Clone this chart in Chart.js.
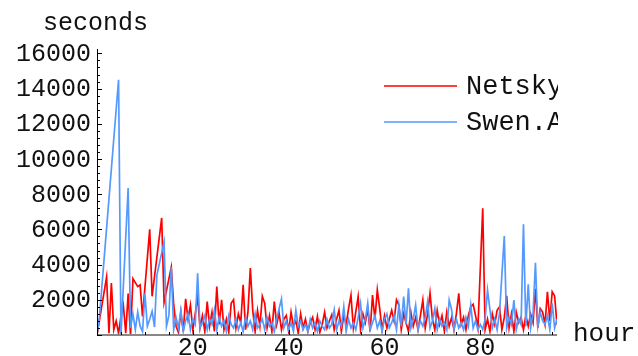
<!DOCTYPE html>
<html>
<head>
<meta charset="utf-8">
<script src="https://cdn.jsdelivr.net/npm/chart.js@4"></script>
<style>
  html, body { margin: 0; padding: 0; background: #fff; }
  #wrap { width: 638px; height: 356px; }
</style>
</head>
<body>
<div id="wrap"><canvas id="myChart" width="638" height="356"></canvas></div>
<script>
// samples every half hour; null = no sample (line spans over it)
var hourStep = 0.5;

var netskySeconds = [
  0, null, null, null, 3300, 100, 2950, 300, 800, 100,
  1050, 1700, 100, 2350, 0, 3200, null, 2750, 2850, 1050,
  null, null, 6000, 2200, null, null, null, 6650, 1850, null,
  null, 3850, 1750, 500, 150, 1300, 200, 2050, 900, 1700,
  300, 1200, 2200, 400, 1100, 200, 1900, 500, 1300, 200,
  2750, 600, 2000, 300, 900, 150, 1800, 2000, 400, 1200,
  700, 2850, 300, 1300, 3800, 1400, 200, 1400, 500, 2200,
  1800, 400, 1100, 200, 1900, 600, 1250, 300, 900, 1100,
  200, 1300, 500, 800, 100, 1200, 400, 900, 200, 700,
  1000, 300, 1050, 150, 600, 1300, 400, 800, 1150, 300,
  900, 1400, 200, 1100, 600, 1500, 2270, 400, 1300, 2180,
  300, 1200, 700, 1500, 200, 2270, 900, 2560, 1500, 300,
  1100, 400, 900, 1400, 800, 2000, 1700, 300, 1200, 700,
  200, 1300, 500, 1000, 300, 1100, 1990, 400, 1200, 2370,
  900, 300, 1400, 600, 1100, 200, 1300, 500, 1000, 300,
  1200, 2370, 600, 1000, 300, 1100, 1600, 1750, 1100, 400,
  null, 7200, 300, 900, 200, 1200, 600, 1400, 1600, 300,
  1000, 2220, 400, 1200, 200, 1300, 700, 1000, 300, 1100,
  500, 1200, 700, 2630, 400, 1500, 1300, 600, 2460, 800,
  2460, 2220, 600
];

var swenSeconds = [
  0, 1000, null, null, null, null, null, null, null, 14500,
  0, null, null, 8350, 400, 1200, 300, 1300, 500, 200,
  2360, 500, 900, 1350, 450, 3400, null, null, 5300, 500,
  1100, 3860, 300, 1000, 400, 1400, 200, 800, 1200, 300,
  900, 600, 3500, 400, 700, 1100, 300, 900, 600, 1420,
  300, 1000, 500, 800, 200, 1100, 600, 400, 900, 300,
  700, 200, 1000, 500, 800, 300, 1200, 400, 600, 900,
  300, 1000, 500, 700, 200, 900, 1500, 2050, 400, 800,
  300, 700, 200, 1420, 500, 800, 300, 600, 200, 900,
  400, 700, 200, 800, 500, 300, 900, 400, 600, 1420,
  300, 800, 500, 1600, 200, 900, 400, 700, 300, 1000,
  1800, 400, 900, 1800, 300, 700, 1100, 400, 800, 200,
  900, 1200, 400, 700, 1100, 300, 1700, 500, 2180, 600,
  2650, 400, 900, 1700, 300, 800, 500, 1000, 1890, 400,
  800, 1500, 300, 900, 500, 700, 300, 1990, 1450, 300,
  900, 400, 700, 300, 1000, 500, 1700, 400, 800, 300,
  600, 300, 900, 2550, 1450, 400, 900, 300, 1240, null,
  5620, 400, 1000, 600, 1990, 300, 900, 600, 6290, 500,
  2880, 400, 1200, 4100, 500, 1300, 800, 600, 1100, 300,
  1800, 400, 900
];

var seriesNames = ['Netsky', 'Swen.A'];
var seriesColors = ['#ff0000', '#5599ff'];
var yTickLabels = [2000, 4000, 6000, 8000, 10000, 12000, 14000, 16000];
var xTickLabels = [20, 40, 60, 80];

var monoFamily = '"Liberation Mono", "DejaVu Sans Mono", monospace';

function toPoints(values) {
  return values.map(function (v, i) { return { x: i * hourStep, y: v }; });
}

// axes, tick marks, labels and legend drawn by hand in the old plotting style
var plotFrame = {
  id: 'plotFrame',
  beforeDraw: function (chart) {
    var ctx = chart.ctx;
    ctx.save();
    ctx.fillStyle = '#fff';
    ctx.fillRect(0, 0, chart.width, chart.height);
    ctx.restore();
  },
  afterDraw: function (chart) {
    var ctx = chart.ctx;
    var xs = chart.scales.x, ys = chart.scales.y;
    var area = chart.chartArea;
    var v, px, py;
    ctx.save();

    // horizontal axis
    ctx.strokeStyle = '#888';
    ctx.lineWidth = 2;
    ctx.beginPath();
    ctx.moveTo(area.left, area.bottom);
    ctx.lineTo(area.right, area.bottom);
    ctx.stroke();

    ctx.strokeStyle = '#000';
    ctx.lineWidth = 1;
    ctx.beginPath();
    for (v = 5; v < 96; v += 5) {
      px = Math.round(xs.getPixelForValue(v)) + 0.5;
      ctx.moveTo(px, area.bottom);
      ctx.lineTo(px, area.bottom - (v % 20 === 0 ? 5 : 3));
    }
    ctx.stroke();

    // vertical axis
    ctx.beginPath();
    ctx.moveTo(area.left + 0.5, area.top);
    ctx.lineTo(area.left + 0.5, area.bottom);
    for (v = 0; v <= 16000; v += 400) {
      py = Math.round(ys.getPixelForValue(v)) + 0.5;
      ctx.moveTo(area.left, py);
      ctx.lineTo(area.left + (v % 2000 === 0 ? 5 : 3), py);
    }
    ctx.stroke();

    ctx.fillStyle = '#111';
    ctx.font = '25px ' + monoFamily;
    ctx.textAlign = 'right';
    ctx.textBaseline = 'middle';
    yTickLabels.forEach(function (t) {
      ctx.fillText(String(t), area.left - 6, ys.getPixelForValue(t) + 1);
    });

    ctx.textAlign = 'center';
    ctx.textBaseline = 'alphabetic';
    xTickLabels.forEach(function (t) {
      ctx.fillText(String(t), xs.getPixelForValue(t), 355);
    });

    ctx.textAlign = 'left';
    ctx.fillText('seconds', 43, 30);
    ctx.font = '26px ' + monoFamily;
    ctx.fillText('hour', 573, 341);

    // legend, cut off at the right edge of the plot range
    ctx.save();
    ctx.beginPath();
    ctx.rect(0, 0, area.right + 1, chart.height);
    ctx.clip();
    ctx.font = '27px ' + monoFamily;
    var rows = [86, 122];
    seriesNames.forEach(function (name, i) {
      ctx.strokeStyle = seriesColors[i];
      ctx.lineWidth = 1.4;
      ctx.beginPath();
      ctx.moveTo(384, rows[i]);
      ctx.lineTo(457, rows[i]);
      ctx.stroke();
      ctx.fillStyle = '#111';
      ctx.textBaseline = 'middle';
      ctx.fillText(name, 466, rows[i] + 1);
    });
    ctx.restore();

    ctx.restore();
  }
};

var ctx = document.getElementById('myChart').getContext('2d');
var myChart = new Chart(ctx, {
  type: 'line',
  data: {
    datasets: [{
      label: seriesNames[0],
      data: toPoints(netskySeconds),
      borderColor: seriesColors[0],
      borderWidth: 1.7,
      pointRadius: 0,
      spanGaps: true,
      order: 2
    }, {
      label: seriesNames[1],
      data: toPoints(swenSeconds),
      borderColor: seriesColors[1],
      borderWidth: 1.7,
      pointRadius: 0,
      spanGaps: true,
      order: 1
    }]
  },
  options: {
    responsive: false,
    animation: false,
    devicePixelRatio: 1,
    layout: {
      padding: { left: 97, right: 81, top: 49, bottom: 21 }
    },
    plugins: {
      legend: { display: false },
      tooltip: { enabled: false }
    },
    scales: {
      x: { type: 'linear', min: 0, max: 96, display: false },
      y: { min: 0, max: 16250, display: false }
    }
  },
  plugins: [plotFrame]
});
</script>
</body>
</html>
